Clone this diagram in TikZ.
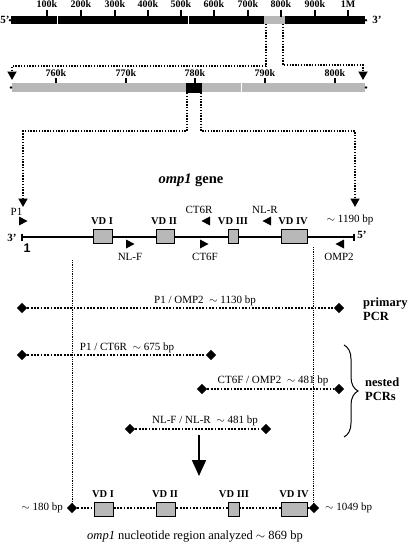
\documentclass[tikz,border=0pt]{standalone}
\usepackage{fontspec}
\setmainfont{Liberation Serif}
\newfontfamily\arialf{Liberation Sans}
\usetikzlibrary{arrows.meta,shapes.geometric,decorations.pathreplacing}
\begin{document}
\begin{tikzpicture}[x=1pt,y=-1pt,
 lbl/.style={font=\fontsize{11}{12}\selectfont, inner sep=0},
 ticklbl/.style={font=\bfseries\fontsize{10}{11}\selectfont, inner sep=0},
 vd/.style={font=\bfseries\fontsize{10.5}{11}\selectfont, inner sep=0},
 big/.style={font=\bfseries\fontsize{12.5}{13.5}\selectfont, inner sep=0, align=left, anchor=west},
 vdbox/.style={draw=black, fill=black!28, line width=0.9},
 dots/.style={line width=1.8, dash pattern=on 1.4 off 1.4},
 pcr/.style={line width=2.4, dash pattern=on 1.8 off 1.5},
 guide/.style={line width=0.6, dash pattern=on 0.9 off 0.9},
 dmd/.style={diamond, fill=black, inner sep=0, minimum width=10.5, minimum height=10.5},
 dtip/.style={-{Triangle[width=9,length=8.5]}},
 tickline/.style={line width=1.1},
]
\useasboundingbox (0,0) rectangle (408,543);
\fill[white] (0,0) rectangle (408,543);

% ---------- top chromosome bar ----------
\fill[black] (11,16.5) rectangle (365,24);
\fill[black!28] (264,16.5) rectangle (285,24);
\draw[white,line width=0.6] (57,16.5) -- (57,24) (188,16.5) -- (188,24);
\fill[black] (10,20.3) circle (1.4) (366,20.3) circle (1.4);
\node[font=\bfseries\fontsize{11}{12}\selectfont, inner sep=0] at (5,20) {5'};
\node[font=\bfseries\fontsize{11}{12}\selectfont, inner sep=0] at (377,20) {3'};
\foreach \x/\t in {47/100k,81/200k,115/300k,148/400k,181/500k,214/600k,248/700k,281/800k,315/900k,348/1M}{
  \draw[tickline] (\x,10) -- (\x,17);
  \node[ticklbl] at (\x,4.3) {\t};
}

% ---------- zoom 1 connectors ----------
\coordinate (a1) at (266,24);
\coordinate (a2) at (283,24);
\coordinate (b1) at (12,80);
\coordinate (b2) at (363,80);
\draw[dots,dtip] (a1) -- (266,66) -- (12,66) -- (b1);
\draw[dots,dtip] (a2) -- (283,65) -- (363,65) -- (b2);

% ---------- second bar ----------
\fill[black!28] (12,83) rectangle (365,92);
\draw[white,line width=0.8] (241,83) -- (241,92);
\fill[black] (186,82.5) rectangle (202,93);
\fill[black] (11,87.5) circle (1.3) (366,87.5) circle (1.3);
\foreach \x/\t in {56/760k,126/770k,195/780k,265/790k,335/800k}{
  \draw[tickline] (\x,78) -- (\x,83);
  \node[ticklbl] at (\x,73.5) {\t};
}

% ---------- zoom 2 connectors ----------
\coordinate (c1) at (187,93);
\coordinate (c2) at (201,93);
\coordinate (d1) at (23,207);
\coordinate (d2) at (355,207);
\draw[dots,dtip] (c1) -- (187,131) -- (23,131) -- (d1);
\draw[dots,dtip] (c2) -- (201,131) -- (355,131) -- (d2);

\node[font=\bfseries\fontsize{14.5}{15}\selectfont, inner sep=0] (title) at (191,180) {\textit{omp1} gene};

% ---------- gene ----------
\draw[line width=2] (22,237) -- (354,237);
\draw[line width=1.1] (22,233.5) -- (22,240.5) (354,233.5) -- (354,240.5);
\node[font=\bfseries\fontsize{11}{12}\selectfont, inner sep=0] at (12,238) {3'};
\node[font=\bfseries\fontsize{11}{12}\selectfont, inner sep=0] at (362,235) {5'};
\node[font=\arialf\bfseries\fontsize{12.5}{13}\selectfont, inner sep=0] at (27,248) {1};

\draw[vdbox] (93,229) rectangle (112,243);
\draw[vdbox] (156,229) rectangle (174,243);
\draw[vdbox] (228,229) rectangle (238,243);
\draw[vdbox] (281,229) rectangle (307,243);
\node[vd] at (102,221) {VD I};
\node[vd] at (164,221) {VD II};
\node[vd] at (233,221) {VD III};
\node[vd] at (293,221) {VD IV};

% primers
\fill (19,216.5) -- (27.5,221) -- (19,225.5) -- cycle;
\fill (126,239.5) -- (134.5,244) -- (126,248.5) -- cycle;
\fill (200,239.5) -- (208.5,244) -- (200,248.5) -- cycle;
\fill (210,216.5) -- (201.5,221) -- (210,225.5) -- cycle;
\fill (271,216.5) -- (262.5,221) -- (271,225.5) -- cycle;
\fill (344,239.5) -- (335.5,244) -- (344,248.5) -- cycle;
\node[lbl] at (16.5,212) {P1};
\node[lbl] at (199,210) {CT6R};
\node[lbl] at (265,210) {NL-R};
\node[lbl] at (350,220) {$\sim$ 1190 bp};
\node[lbl] at (130,257) {NL-F};
\node[lbl] at (205,257) {CT6F};
\node[lbl] at (339,257) {OMP2};

% guides
\draw[guide] (72,260) -- (72,508);
\draw[guide] (313,247) -- (313,508);

% ---------- PCR products ----------
\node[dmd] (p1a) at (22,308) {};
\node[dmd] (p1b) at (339,308) {};
\draw[pcr] (p1a) -- (p1b);
\node[lbl] at (205,301) {P1 / OMP2 \ $\sim$ 1130 bp};
\node[big] at (363,309) {primary\\PCR};

\node[dmd] (p2a) at (22,355) {};
\node[dmd] (p2b) at (211,355) {};
\draw[pcr] (p2a) -- (p2b);
\node[lbl] at (127,348) {P1 / CT6R \ $\sim$ 675 bp};

\node[dmd] (p3a) at (202,389) {};
\node[dmd] (p3b) at (339,389) {};
\draw[pcr] (p3a) -- (p3b);
\node[lbl] at (273,381) {CT6F / OMP2 \ $\sim$ 481 bp};

\node[dmd] (p4a) at (130,429) {};
\node[dmd] (p4b) at (266,429) {};
\draw[pcr] (p4a) -- (p4b);
\node[lbl] at (205,421) {NL-F / NL-R \ $\sim$ 481 bp};

\draw[line width=1, decorate, decoration={brace, amplitude=14}] (344,345) -- (344,437);
\node[big] at (365,389) {nested\\PCRs};

\coordinate (arrS) at (199,435);
\coordinate (arrE) at (199,476);
\draw[line width=1.8, -{Triangle[width=14,length=16]}] (arrS) -- (arrE);

% ---------- analysed region ----------
\node[dmd] (r1) at (72,508) {};
\node[dmd] (r2) at (314,508) {};
\draw[pcr] (r1) -- (r2);
\draw[vdbox] (94,502) rectangle (113,516);
\draw[vdbox] (156,502) rectangle (175,516);
\draw[vdbox] (228,502) rectangle (239,516);
\draw[vdbox] (281,502) rectangle (307,516);
\node[vd] at (103,494) {VD I};
\node[vd] at (165,494) {VD II};
\node[vd] at (234,494) {VD III};
\node[vd] at (294,494) {VD IV};
\node[lbl, anchor=east] at (63,508) {$\sim$ 180 bp};
\node[lbl, anchor=west] at (325,508) {$\sim$ 1049 bp};
\node[font=\fontsize{12.5}{13}\selectfont, inner sep=0] at (195,537) {\textit{omp1} nucleotide region analyzed $\sim$ 869 bp};
\end{tikzpicture}
\end{document}
